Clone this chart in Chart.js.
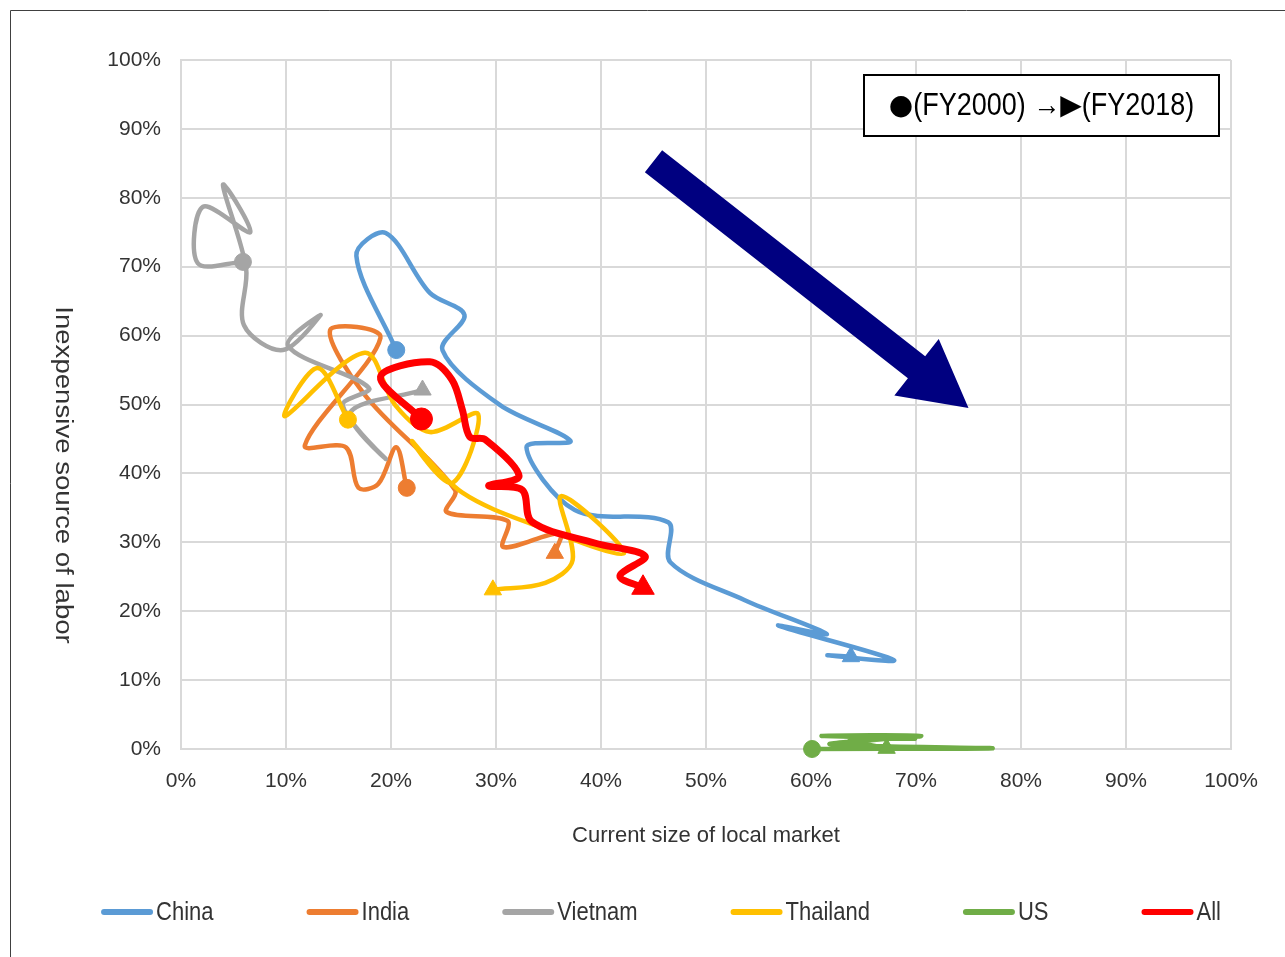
<!DOCTYPE html>
<html>
<head>
<meta charset="utf-8">
<title>Current size of local market vs. inexpensive source of labor</title>
<script src="https://cdn.jsdelivr.net/npm/chart.js@4.4.1/dist/chart.umd.min.js"></script>
<style>
  html, body { margin: 0; padding: 0; background: #ffffff; }
  canvas { display: block; }
</style>
</head>
<body>
<canvas id="chart" width="1285" height="957"></canvas>
<script>
// ---- data (percent of respondents), FY2000 first point, FY2018 last point ----
const seriesNames = ['China', 'India', 'Vietnam', 'Thailand', 'US', 'All'];
const seriesColors = ['#5B9BD5', '#ED7D31', '#A5A5A5', '#FFC000', '#70AD47', '#FF0000'];

const chinaX = [20.5, 16.7, 19.5, 23.7, 27.0, 24.9, 30.4, 37.1, 32.9, 37.5, 46.4, 46.6, 53.7, 61.5, 56.9, 67.9, 61.6, 63.8];
const chinaY = [57.9, 71.6, 74.9, 66.2, 63.0, 57.9, 49.9, 44.7, 43.8, 34.7, 32.9, 27.1, 21.6, 16.7, 17.9, 12.9, 13.6, 13.4];

const indiaX = [21.5, 20.5, 18.8, 16.9, 15.7, 11.8, 19.0, 14.2, 17.5, 26.1, 25.3, 31.1, 30.7, 36.1, 35.6];
const indiaY = [37.9, 43.8, 38.5, 37.9, 43.8, 44.1, 59.7, 60.8, 51.4, 37.6, 34.4, 33.1, 29.3, 31.3, 28.4];

const vietnamX = [5.9, 1.6, 2.1, 6.6, 4.0, 6.2, 6.0, 9.7, 13.3, 10.2, 17.9, 15.4, 19.5, 16.1, 23.0];
const vietnamY = [70.7, 70.5, 78.7, 75.0, 81.9, 69.8, 61.5, 57.9, 63.0, 58.5, 52.4, 49.9, 42.1, 48.8, 52.1];

const thailandX = [15.9, 13.0, 9.9, 17.5, 20.4, 23.7, 28.3, 25.8, 22.0, 26.8, 34.2, 42.2, 36.2, 37.3, 34.7, 29.7];
const thailandY = [47.8, 55.3, 48.3, 57.5, 49.9, 46.0, 48.6, 38.6, 44.7, 37.2, 32.2, 28.4, 36.7, 27.4, 24.1, 23.1];

const usX = [60.1, 77.3, 61.8, 70.5, 61.0, 69.9, 63.7, 67.2];
const usY = [0.0, 0.1, 0.7, 1.9, 1.9, 1.5, 1.3, 0.1];

const allX = [22.9, 19.0, 23.7, 25.8, 26.8, 27.5, 29.0, 32.2, 29.3, 32.5, 33.4, 39.4, 44.2, 41.8, 44.0];
const allY = [47.9, 54.0, 56.2, 53.6, 49.2, 45.3, 44.9, 39.6, 38.2, 37.6, 33.0, 29.9, 28.0, 25.1, 23.4];

const tickValues = [0, 10, 20, 30, 40, 50, 60, 70, 80, 90, 100];
const tickLabels = ['0%', '10%', '20%', '30%', '40%', '50%', '60%', '70%', '80%', '90%', '100%'];

const xTitle = 'Current size of local market';
const yTitle = 'Inexpensive source of labor';
// note in the top-right box: [text, uses symbol font]
const noteParts = [['\u25CF', true], ['(FY2000) \u2192', false], ['\u25B6', true], ['(FY2018)', false]];

// trend arrow, in axis units (from -> to)
const arrowFrom = [45.0, 85.3];
const arrowTo = [75.0, 49.5];

// ---- styling ----
const FONT = "'Liberation Sans', Arial, sans-serif";
const SYMBOL_FONT = "'DejaVu Sans', sans-serif";
const TEXT = '#333333';
const TEXT_STRETCH = 1.15;   // text in this chart is set slightly tall

function tickLabel(v) {
  const i = tickValues.indexOf(v);
  return i >= 0 ? tickLabels[i] : '';
}

function makeSeries(idx, xs, ys, width, circleR, triR, order) {
  const n = xs.length;
  const color = seriesColors[idx];
  const radii = xs.map((_, i) => (i === 0 ? circleR : (i === n - 1 ? triR : 0)));
  return {
    label: seriesNames[idx],
    data: xs.map((x, i) => ({ x: x, y: ys[i] })),
    showLine: true,
    borderColor: color,
    backgroundColor: color,
    borderWidth: width,
    tension: 0.33,
    borderCapStyle: 'round',
    borderJoinStyle: 'round',
    pointStyle: xs.map((_, i) => (i === n - 1 ? 'triangle' : 'circle')),
    pointRadius: radii,
    pointHoverRadius: radii,
    pointBackgroundColor: color,
    pointBorderColor: color,
    pointBorderWidth: 1,
    clip: false,
    order: order
  };
}

const datasets = [
  makeSeries(0, chinaX, chinaY, 4.5, 8.5, 10, 6),
  makeSeries(1, indiaX, indiaY, 4.5, 8.5, 10, 5),
  makeSeries(2, vietnamX, vietnamY, 4.5, 8.5, 10, 4),
  makeSeries(3, thailandX, thailandY, 4.5, 8.5, 10, 3),
  makeSeries(4, usX, usY, 4.5, 8.5, 10, 2),
  makeSeries(5, allX, allY, 7, 11, 13, 1)
];

// frame, rotated y title, trend arrow, FY note and series key
const decorations = {
  id: 'decorations',
  beforeDraw(chart) {
    const ctx = chart.ctx;
    ctx.save();
    ctx.fillStyle = '#ffffff';
    ctx.fillRect(0, 0, chart.width, chart.height);
    ctx.strokeStyle = '#404040';
    ctx.lineWidth = 1;
    ctx.beginPath();
    ctx.moveTo(10.5, chart.height);
    ctx.lineTo(10.5, 10.5);
    ctx.lineTo(chart.width, 10.5);
    ctx.stroke();
    ctx.restore();
  },
  afterDraw(chart) {
    const ctx = chart.ctx;
    const xs = chart.scales.x, ys = chart.scales.y;

    // y axis title, reading top to bottom
    ctx.save();
    ctx.translate(62, 475);
    ctx.rotate(Math.PI / 2);
    ctx.scale(1.2, 1);
    ctx.font = '23px ' + FONT;
    ctx.fillStyle = TEXT;
    ctx.textAlign = 'center';
    ctx.textBaseline = 'middle';
    ctx.fillText(yTitle, 0, 0);
    ctx.restore();

    // trend arrow
    const x0 = xs.getPixelForValue(arrowFrom[0]), y0 = ys.getPixelForValue(arrowFrom[1]);
    const x1 = xs.getPixelForValue(arrowTo[0]), y1 = ys.getPixelForValue(arrowTo[1]);
    const dx = x1 - x0, dy = y1 - y0, len = Math.hypot(dx, dy);
    const ux = dx / len, uy = dy / len, nx = -uy, ny = ux;
    const shaft = 14, headHalf = 36, headLen = 66;
    const bx = x1 - ux * headLen, by = y1 - uy * headLen;
    ctx.save();
    ctx.fillStyle = '#000080';
    ctx.beginPath();
    ctx.moveTo(x0 + nx * shaft, y0 + ny * shaft);
    ctx.lineTo(bx + nx * shaft, by + ny * shaft);
    ctx.lineTo(bx + nx * headHalf, by + ny * headHalf);
    ctx.lineTo(x1, y1);
    ctx.lineTo(bx - nx * headHalf, by - ny * headHalf);
    ctx.lineTo(bx - nx * shaft, by - ny * shaft);
    ctx.lineTo(x0 - nx * shaft, y0 - ny * shaft);
    ctx.closePath();
    ctx.fill();
    ctx.restore();

    // FY note box
    ctx.save();
    const bxL = 864, bxT = 75, bxW = 355, bxH = 61;
    ctx.fillStyle = '#ffffff';
    ctx.fillRect(bxL, bxT, bxW, bxH);
    ctx.strokeStyle = '#000000';
    ctx.lineWidth = 2;
    ctx.strokeRect(bxL, bxT, bxW, bxH);
    ctx.fillStyle = '#000000';
    ctx.textBaseline = 'middle';
    ctx.textAlign = 'left';
    const fontFor = sym => (sym ? '28px ' + SYMBOL_FONT : '27px ' + FONT);
    const partW = noteParts.map(p => { ctx.font = fontFor(p[1]); return ctx.measureText(p[0]).width; });
    const noteW = partW.reduce((a, b) => a + b, 0);
    let nx0 = bxL + (bxW - noteW) / 2;
    const ny0 = bxT + bxH / 2 + 1;
    noteParts.forEach((p, i) => {
      ctx.save();
      ctx.font = fontFor(p[1]);
      ctx.translate(nx0, ny0);
      ctx.scale(1, p[1] ? 1 : TEXT_STRETCH);
      ctx.fillText(p[0], 0, 0);
      ctx.restore();
      nx0 += partW[i];
    });
    ctx.restore();

    // series key along the bottom
    ctx.save();
    ctx.font = '22px ' + FONT;
    ctx.textBaseline = 'middle';
    ctx.textAlign = 'left';
    const lineLen = 52, textGap = 3, itemGap = 93, keyY = 912;
    const widths = seriesNames.map(n => ctx.measureText(n).width);
    const total = widths.reduce((a, w) => a + lineLen + textGap + w, 0) + itemGap * (seriesNames.length - 1);
    let cx = 661 - total / 2;
    seriesNames.forEach((name, i) => {
      ctx.strokeStyle = seriesColors[i];
      ctx.lineWidth = 6;
      ctx.lineCap = 'round';
      ctx.beginPath();
      ctx.moveTo(cx + 3, keyY);
      ctx.lineTo(cx + lineLen - 3, keyY);
      ctx.stroke();
      ctx.save();
      ctx.translate(cx + lineLen + textGap, keyY + 1);
      ctx.scale(1, TEXT_STRETCH);
      ctx.fillStyle = TEXT;
      ctx.fillText(name, 0, 0);
      ctx.restore();
      cx += lineLen + textGap + widths[i] + itemGap;
    });
    ctx.restore();
  }
};

const axisCommon = {
  type: 'linear',
  min: 0,
  max: 100,
  grid: { color: '#d9d9d9', lineWidth: 2, drawTicks: false },
  border: { color: '#d9d9d9', width: 2 }
};

new Chart(document.getElementById('chart'), {
  type: 'scatter',
  data: { datasets: datasets },
  options: {
    responsive: false,
    animation: false,
    devicePixelRatio: 1,
    events: [],
    layout: { padding: { left: 0, top: 60, right: 54, bottom: 108 } },
    plugins: {
      legend: { display: false },
      tooltip: { enabled: false }
    },
    scales: {
      x: Object.assign({}, axisCommon, {
        position: 'bottom',
        ticks: {
          stepSize: 10, autoSkip: false, maxRotation: 0, padding: 20,
          color: TEXT, font: { size: 21, family: FONT },
          callback: v => tickLabel(v)
        },
        title: {
          display: true, text: xTitle, color: TEXT,
          font: { size: 22, family: FONT }, padding: { top: 0, bottom: 0 }
        },
        afterFit(scale) { scale.height = 100; }
      }),
      y: Object.assign({}, axisCommon, {
        position: 'left',
        ticks: {
          stepSize: 10, autoSkip: false, padding: 20,
          color: TEXT, font: { size: 21, family: FONT },
          callback: v => tickLabel(v)
        },
        afterFit(scale) { scale.width = 181; }
      })
    }
  },
  plugins: [decorations]
});
</script>
</body>
</html>
